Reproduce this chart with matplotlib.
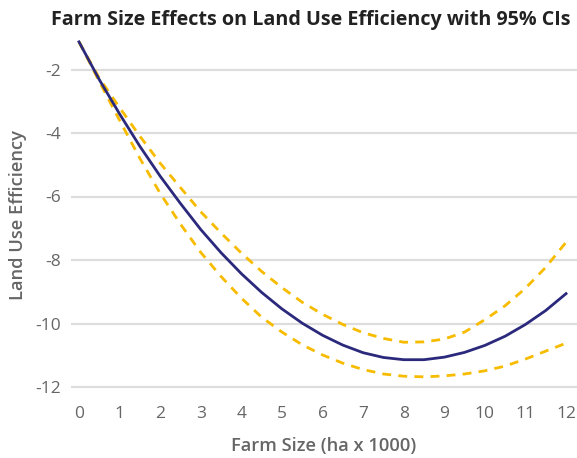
import matplotlib
matplotlib.use("Agg")
import matplotlib.pyplot as plt

farm_size = [0, 0.5, 1, 1.5, 2, 2.5, 3, 3.5, 4, 4.5, 5, 5.5, 6,
             6.5, 7, 7.5, 8, 8.5, 9, 9.5, 10, 10.5, 11, 11.5, 12]
efficiency = [-1.13, -2.32, -3.40, -4.42, -5.36, -6.22, -7.04, -7.77, -8.43,
              -9.02, -9.54, -9.99, -10.37, -10.68, -10.92, -11.07, -11.14,
              -11.14, -11.06, -10.91, -10.69, -10.40, -10.03, -9.59, -9.06]
ci_upper = [-1.13, -2.27, -3.20, -4.10, -4.95, -5.72, -6.48, -7.15, -7.78,
            -8.36, -8.87, -9.33, -9.71, -10.03, -10.29, -10.47, -10.59,
            -10.58, -10.49, -10.27, -9.88, -9.44, -8.89, -8.23, -7.44]
ci_lower = [-1.13, -2.38, -3.60, -4.80, -5.90, -6.87, -7.76, -8.52, -9.20,
            -9.80, -10.27, -10.67, -10.99, -11.25, -11.45, -11.59, -11.66,
            -11.68, -11.65, -11.59, -11.49, -11.34, -11.12, -10.87, -10.62]
x_ticks = list(range(0, 13))
y_ticks = [-12, -10, -8, -6, -4, -2]

plt.rcParams['font.family'] = ['Open Sans', 'DejaVu Sans']
plt.rcParams['axes.unicode_minus'] = False

fig = plt.figure(figsize=(5.77, 4.58), dpi=100)
ax = fig.add_axes([71/577, 1 - 395/458, 506/577, 360/458])

for yv in y_ticks:
    ax.axhline(yv, color='#dddddd', lw=1.6, zorder=0)

ax.plot(farm_size, ci_upper, color='#f7bb00', lw=2.0, linestyle=(0, (3.2, 2.6)), zorder=2)
ax.plot(farm_size, ci_lower, color='#f7bb00', lw=2.0, linestyle=(0, (3.2, 2.6)), zorder=2)
ax.plot(farm_size, efficiency, color='#2b297c', lw=2.0, zorder=3)

ax.set_xlim(-0.197, 12.27)
ax.set_ylim(-2 - 325.5/31.75, -2 + 34.5/31.75)
ax.set_xticks(x_ticks)
ax.set_yticks(y_ticks)
ax.set_yticklabels([str(v) for v in y_ticks])
for s in ax.spines.values():
    s.set_visible(False)
ax.tick_params(axis='both', length=0, labelsize=12.5, labelcolor='#666666')
ax.tick_params(axis='y', pad=7)
ax.tick_params(axis='x', pad=8)

ax.set_xlabel('Farm Size (ha x 1000)', fontsize=13.2, color='#666666',
              fontweight='semibold', labelpad=11)
ax.set_ylabel('Land Use Efficiency', fontsize=13.2, color='#666666',
              fontweight='semibold', labelpad=6)

fig.text(311/577, 1 - 20/458, 'Farm Size Effects on Land Use Efficiency with 95% CIs',
         ha='center', va='center', fontsize=14.2, fontweight='bold', color='#222222')

fig.savefig('out.png', dpi=100)
